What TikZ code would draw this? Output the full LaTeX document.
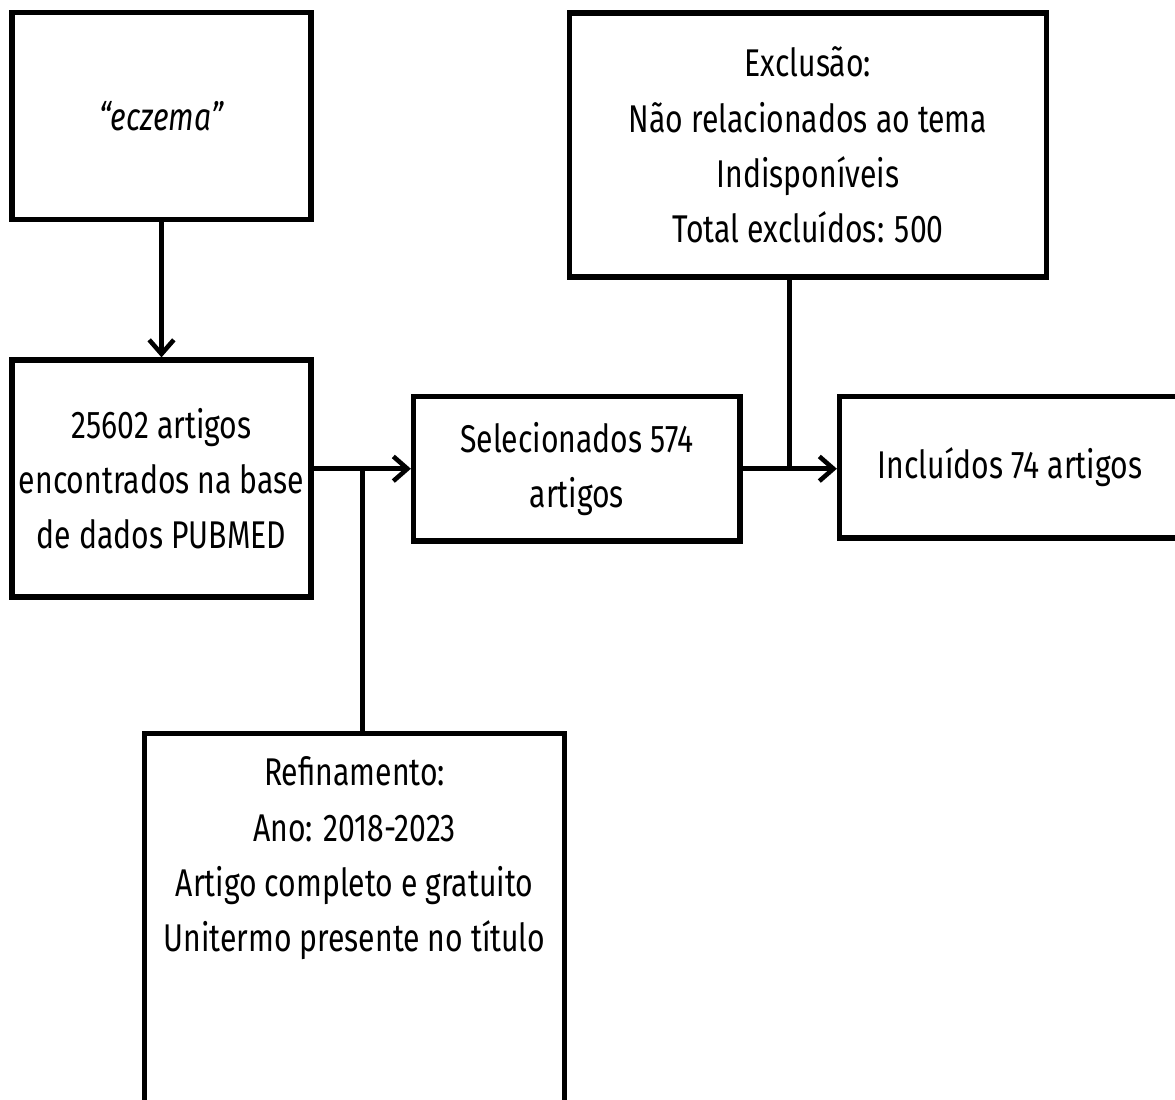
\documentclass[tikz,border=0pt]{standalone}
\usepackage{fontspec}
\setmainfont[FakeStretch=0.78]{Fira Sans}
\usepackage{tikz}
\usetikzlibrary{positioning,arrows.meta,calc}
\definecolor{ink}{HTML}{000000}
\tikzset{
  >={Straight Barb[length=8pt,width=14pt]},
  every node/.style={font=\fontsize{22}{31.5}\selectfont},
  % --- nodes
  box/.style  = {draw=ink, line width=3pt, align=center, inner sep=0pt, text=ink},
  % --- edges
  e/.style    = {->, line width=2.6pt, draw=ink},
  ln/.style   = {line width=2.6pt, draw=ink},
}

\begin{document}
\begin{tikzpicture}[x=0.02cm, y=-0.02cm]
  \useasboundingbox (0,0) rectangle (1175,1099);
  \node[box, minimum width=299*0.02cm, minimum height=206.5*0.02cm] (term) at (161.5,116)
    {\textit{“eczema”}};
  \node[box, minimum width=299*0.02cm, minimum height=237*0.02cm] (base) at (161.5,478.5)
    {25602 artigos\\encontrados na base\\de dados PUBMED};
  \node[box, minimum width=326.5*0.02cm, minimum height=144.5*0.02cm] (sel) at (576.75,468.75)
    {Selecionados 574\\artigos};
  \node[box, minimum width=477*0.02cm, minimum height=264*0.02cm] (excl) at (808,145)
    {Exclusão:\\Não relacionados ao tema\\Indisponíveis\\Total excluídos: 500};
  \node[box, minimum width=341*0.02cm, minimum height=141.5*0.02cm] (incl) at (1010,467.25)
    {Incluídos 74 artigos};
  \node[box, minimum width=420*0.02cm, minimum height=463*0.02cm] (refin) at (354.5,965)
    {Refinamento:\\Ano: 2018-2023\\Artigo completo e gratuito\\Unitermo presente no título\\~\\~\\~\\~};
  % joints on the horizontal arrows
  \coordinate (jr) at ($(base.east |- sel.west)!0.5!(sel.west)$);
  \coordinate (jx) at ($(sel.east)!0.5!(incl.west)$);
  \draw[e] (term) -- (base);
  \draw[e] (base.east |- sel.west) -- (sel.west);
  \draw[e] (sel.east) -- (sel.east -| incl.west);
  \draw[ln] (jr) -- (jr |- refin.north);
  \draw[ln] (jx |- excl.south) -- (jx);
\end{tikzpicture}
\end{document}
